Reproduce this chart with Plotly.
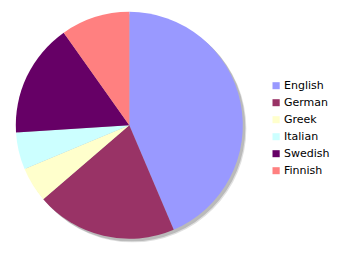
import plotly.graph_objects as go

languages = ["English", "German", "Greek", "Italian", "Swedish", "Finnish"]
shares = [43.6, 20.1, 5.0, 5.3, 16.2, 9.8]
colors = ["#9999ff", "#993366", "#ffffcc", "#ccffff", "#660066", "#ff8080"]

W, H = 347, 253
cx, cy, r = 129.3, 125.3, 113.5


def dom(dx=0.0, dy=0.0):
    return dict(
        x=[(cx + dx - r) / W, (cx + dx + r) / W],
        y=[1 - (cy + dy + r) / H, 1 - (cy + dy - r) / H],
    )


fig = go.Figure()
# drop shadow
fig.add_trace(go.Pie(values=[1], domain=dom(3.5, 3.5), marker=dict(colors=["#e0e0e0"], line=dict(width=0)),
                     textinfo="none", hoverinfo="skip", showlegend=False, sort=False))
fig.add_trace(go.Pie(values=[1], domain=dom(2.5, 2.5), marker=dict(colors=["#bababa"], line=dict(width=0)),
                     textinfo="none", hoverinfo="skip", showlegend=False, sort=False))
fig.add_trace(go.Pie(
    labels=languages, values=shares, domain=dom(),
    marker=dict(colors=colors, line=dict(width=0)),
    textinfo="none", sort=False, direction="clockwise", rotation=0,
    showlegend=False,
))

# legend (drawn as shapes + annotations for exact spacing)
lx0, lx1, tx = 272.5, 279.7, 281.8
ly0, step, sz = 85.7, 17.0, 7.0
for i, (name, col) in enumerate(zip(languages, colors)):
    yc = ly0 + i * step
    fig.add_shape(type="rect", xref="paper", yref="paper",
                  x0=lx0 / W, x1=lx1 / W,
                  y0=1 - (yc + sz / 2) / H, y1=1 - (yc - sz / 2) / H,
                  fillcolor=col, line=dict(width=0))
    fig.add_annotation(x=tx / W, y=1 - yc / H, xref="paper", yref="paper",
                       text=name, showarrow=False, xanchor="left", yanchor="middle",
                       font=dict(family="DejaVu Sans", size=11, color="#000000"))

fig.update_layout(width=W, height=H, margin=dict(l=0, r=0, t=0, b=0),
                  paper_bgcolor="white", plot_bgcolor="white", showlegend=False)
fig.write_html("out.html")
